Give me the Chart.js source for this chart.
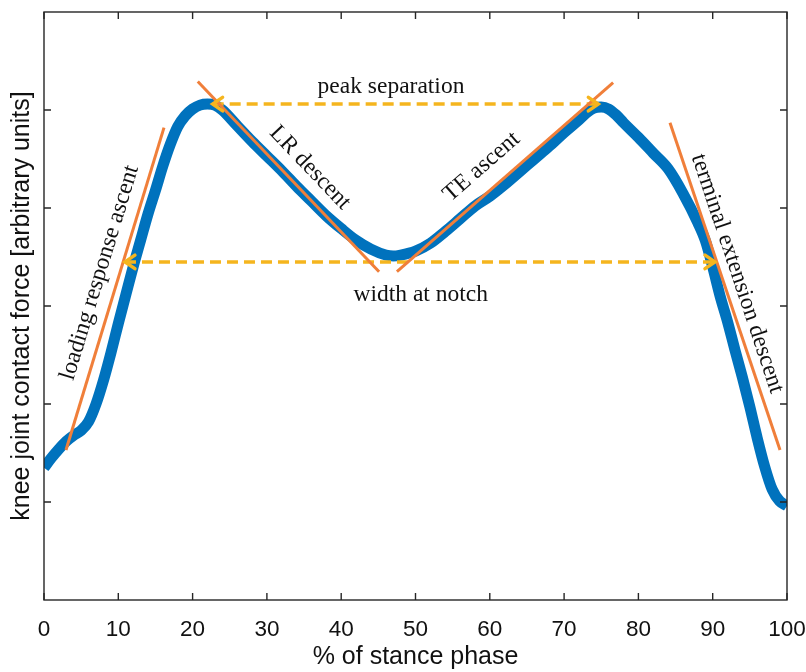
<!DOCTYPE html>
<html>
<head>
<meta charset="utf-8">
<script src="https://cdn.jsdelivr.net/npm/chart.js@4.4.1/dist/chart.umd.min.js"></script>
<style>
  body { margin: 0; background: #fff; }
  #wrap { width: 806px; height: 672px; }
</style>
</head>
<body>
<div id="wrap"><canvas id="kneeChart"></canvas></div>
<script>
// stance phase (%) and contact force curve
const stancePct = [0, 1, 2, 3, 4, 5, 6, 7, 8, 9, 10, 11, 12, 13, 14, 15, 16, 17, 18, 19, 20, 21, 22, 23, 24,
    26, 28, 30, 32, 34, 36, 38, 40, 42, 44, 46, 47, 48, 50, 52, 54, 56, 58, 60, 62, 64, 66, 68, 70, 72, 73,
    74, 75, 76, 77, 78, 80, 82, 84, 86, 88, 89, 90, 91, 92, 93, 94, 95, 96, 97, 98, 99, 100];
const contactForce = [1.35, 1.45, 1.54, 1.62, 1.68, 1.73, 1.82, 2.00, 2.24, 2.52, 2.82, 3.11, 3.40, 3.67, 3.94, 4.18, 4.43, 4.65, 4.83, 4.94, 5.01, 5.05, 5.06, 5.05, 5.00,
    4.84, 4.68, 4.53, 4.38, 4.22, 4.07, 3.92, 3.79, 3.67, 3.58, 3.52, 3.51, 3.52, 3.56, 3.64, 3.76, 3.89, 4.02, 4.12, 4.24, 4.37, 4.50, 4.63, 4.77, 4.90, 4.97,
    5.02, 5.03, 5.01, 4.95, 4.87, 4.72, 4.56, 4.40, 4.15, 3.85, 3.67, 3.40, 3.10, 2.84, 2.55, 2.27, 1.97, 1.65, 1.36, 1.13, 1.01, 0.96];

// tangent lines (orange), [start, end]
const loadingAscentX = [2.96, 16.15];
const loadingAscentY = [1.53, 4.82];
const lrDescentX = [20.7, 45.1];
const lrDescentY = [5.29, 3.35];
const teAscentX = [47.5, 76.6];
const teAscentY = [3.35, 5.28];
const termDescentX = [84.25, 99.06];
const termDescentY = [4.87, 1.53];

// double arrows (yellow dashed)
const peakSepX = [22.7, 74.6];
const peakSepY = [5.06, 5.06];
const notchWidthX = [10.9, 90.3];
const notchWidthY = [3.45, 3.45];

const xTicks = [0, 10, 20, 30, 40, 50, 60, 70, 80, 90, 100];
const yTicks = [1, 2, 3, 4, 5];

// annotation text: label, x, y, angle (deg)
const noteText = ['peak separation', 'width at notch', 'LR descent', 'TE ascent', 'loading response ascent', 'terminal extension descent'];
const noteX = [46.7, 50.7, 35.8, 58.9, 7.5, 93.3];
const noteY = [5.24, 3.11, 4.41, 4.42, 3.34, 3.33];
const noteAngle = [0, 0, 46.4, -41.2, -73, 71.5];

const BLUE = '#0072BD';
const ORANGE = '#F07F3A';
const YELLOW = '#F5B51E';
const AXIS = '#262626';
const SANS = '"Liberation Sans", Arial, sans-serif';

function pts(xs, ys) {
    return xs.map((x, i) => ({ x: x, y: ys[i] }));
}

function tangent(xs, ys) {
    return { data: pts(xs, ys), borderColor: ORANGE, borderWidth: 3, pointRadius: 0, order: 1, tension: 0 };
}

function arrowLine(xs, ys) {
    return { data: pts(xs, ys), borderColor: YELLOW, borderWidth: 3.5, borderDash: [11, 6], pointRadius: 0, order: 2, tension: 0, isArrow: true };
}

// box + inward ticks, like matlab
const boxPlugin = {
    id: 'box',
    afterDraw(chart) {
        const { ctx, chartArea: a, scales } = chart;
        ctx.save();
        ctx.strokeStyle = AXIS;
        ctx.lineWidth = 1.4;
        ctx.strokeRect(a.left, a.top, a.right - a.left, a.bottom - a.top);
        const len = 7;
        ctx.beginPath();
        xTicks.forEach(t => {
            const px = scales.x.getPixelForValue(t);
            ctx.moveTo(px, a.bottom); ctx.lineTo(px, a.bottom - len);
            ctx.moveTo(px, a.top); ctx.lineTo(px, a.top + len);
        });
        yTicks.forEach(t => {
            const py = scales.y.getPixelForValue(t);
            ctx.moveTo(a.left, py); ctx.lineTo(a.left + len, py);
            ctx.moveTo(a.right, py); ctx.lineTo(a.right - len, py);
        });
        ctx.stroke();
        ctx.restore();
    }
};

// arrow heads on both ends + annotation text
const notePlugin = {
    id: 'notes',
    afterDatasetsDraw(chart) {
        const { ctx, scales } = chart;
        ctx.save();
        chart.data.datasets.forEach(ds => {
            if (!ds.isArrow) return;
            const p0 = { x: scales.x.getPixelForValue(ds.data[0].x), y: scales.y.getPixelForValue(ds.data[0].y) };
            const p1 = { x: scales.x.getPixelForValue(ds.data[1].x), y: scales.y.getPixelForValue(ds.data[1].y) };
            [[p0, p1], [p1, p0]].forEach(([tip, from]) => {
                const ang = Math.atan2(tip.y - from.y, tip.x - from.x);
                ctx.strokeStyle = YELLOW;
                ctx.lineWidth = 3.5;
                ctx.lineCap = 'round';
                ctx.beginPath();
                ctx.moveTo(tip.x - 12 * Math.cos(ang - 0.6), tip.y - 12 * Math.sin(ang - 0.6));
                ctx.lineTo(tip.x, tip.y);
                ctx.lineTo(tip.x - 12 * Math.cos(ang + 0.6), tip.y - 12 * Math.sin(ang + 0.6));
                ctx.stroke();
            });
        });
        ctx.fillStyle = '#111';
        ctx.font = '23.5px "Liberation Serif", "Times New Roman", serif';
        ctx.textAlign = 'center';
        ctx.textBaseline = 'middle';
        noteText.forEach((txt, i) => {
            ctx.save();
            ctx.translate(scales.x.getPixelForValue(noteX[i]), scales.y.getPixelForValue(noteY[i]));
            ctx.rotate(noteAngle[i] * Math.PI / 180);
            ctx.fillText(txt, 0, 0);
            ctx.restore();
        });
        ctx.restore();
    }
};

new Chart(document.getElementById('kneeChart'), {
    type: 'line',
    data: {
        datasets: [
            { data: pts(stancePct, contactForce), borderColor: BLUE, borderWidth: 11, pointRadius: 0, order: 3,
              cubicInterpolationMode: 'monotone', borderCapStyle: 'butt', borderJoinStyle: 'round' },
            tangent(loadingAscentX, loadingAscentY),
            tangent(lrDescentX, lrDescentY),
            tangent(teAscentX, teAscentY),
            tangent(termDescentX, termDescentY),
            arrowLine(peakSepX, peakSepY),
            arrowLine(notchWidthX, notchWidthY)
        ]
    },
    options: {
        responsive: true,
        maintainAspectRatio: false,
        animation: false,
        layout: { padding: { top: 12, right: 19, left: 0, bottom: 0 } },
        plugins: { legend: { display: false }, tooltip: { enabled: false } },
        scales: {
            x: {
                type: 'linear',
                min: 0,
                max: 100,
                grid: { display: false, drawTicks: false },
                border: { display: false },
                afterBuildTicks: s => { s.ticks = xTicks.map(v => ({ value: v })); },
                ticks: { color: '#111', padding: 16, maxRotation: 0, font: { family: SANS, size: 22.5 } },
                title: { display: true, text: '% of stance phase', color: '#111', padding: { top: 0, bottom: 0 },
                         font: { family: SANS, size: 25 } },
                afterFit: s => { s.height = 72; s.paddingLeft = 0; s.paddingRight = 0; }
            },
            y: {
                min: 0,
                max: 6,
                grid: { display: false, drawTicks: false },
                border: { display: false },
                ticks: { display: false },
                title: { display: true, text: 'knee joint contact force [arbitrary units]', color: '#111', padding: { top: 7, bottom: 0 },
                         font: { family: SANS, size: 25 } },
                afterFit: s => { s.width = 44; }
            }
        }
    },
    plugins: [boxPlugin, notePlugin]
});
</script>
</body>
</html>
